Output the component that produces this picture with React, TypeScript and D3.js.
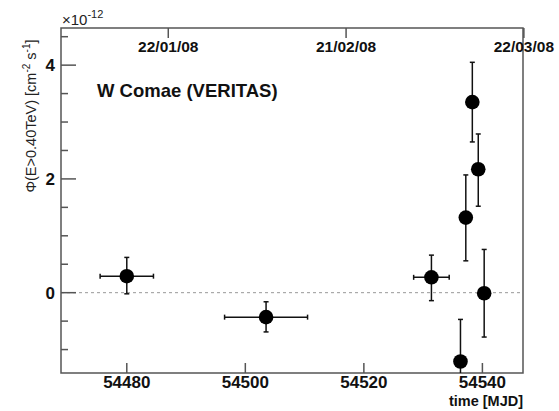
import React from "react";
import * as d3 from "d3";

// light curve points (MJD, flux in 1e-12 cm^-2 s^-1)
const mjd = [54480.0, 54503.5, 54531.4, 54536.3, 54537.2, 54538.3, 54539.3, 54540.3];
const mjdErr = [4.5, 7.0, 3.0, 0, 0, 0, 0, 0];
const flux = [0.29, -0.43, 0.27, -1.21, 1.32, 3.35, 2.17, -0.01];
const fluxHi = [0.62, -0.16, 0.66, -0.47, 2.07, 4.05, 2.79, 0.76];
const fluxLo = [-0.02, -0.69, -0.14, -1.95, 0.56, 2.65, 1.52, -0.78];

const bottomTicks = [54480, 54500, 54520, 54540];
const dateTicks = [54487, 54517, 54547];
const dateLabels = ["22/01/08", "21/02/08", "22/03/08"];
const majorY = [0, 2, 4];
const minorY = [-1, -0.5, 0.5, 1, 1.5, 2.5, 3, 3.5, 4.5];

const W = 559;
const H = 411;
const m = { left: 61, right: 523, top: 28, bottom: 373 };
const font = "'Liberation Sans', Arial, sans-serif";

export default function App() {
  const x = d3.scaleLinear().domain([54468.9, 54546.85]).range([m.left, m.right]);
  const y = d3.scaleLinear().domain([-1.412, 4.653]).range([m.bottom, m.top]);
  const axisColor = "#555";
  const cap = 2.5;

  return (
    <svg width={W} height={H} style={{ position: "absolute", left: 0, top: 0, background: "#fff" }}>
      <defs>
        <clipPath id="frame">
          <rect x={m.left} y={m.top} width={m.right - m.left} height={m.bottom - m.top} />
        </clipPath>
      </defs>

      {/* zero line */}
      <line x1={m.left} x2={m.right} y1={y(0)} y2={y(0)} stroke="#999" strokeWidth={1} strokeDasharray="3,3" />

      {/* frame */}
      <rect x={m.left} y={m.top} width={m.right - m.left} height={m.bottom - m.top} fill="none" stroke={axisColor} strokeWidth={1.5} />

      {/* y ticks */}
      {majorY.map((v) => (
        <g key={"my" + v}>
          <line x1={m.left} x2={m.left + 15} y1={y(v)} y2={y(v)} stroke={axisColor} strokeWidth={1.5} />
          <text x={55} y={y(v) + 6} textAnchor="end" fontFamily={font} fontWeight="bold" fontSize={17} fill="#111">
            {v}
          </text>
        </g>
      ))}
      {minorY.map((v) => (
        <line key={"ny" + v} x1={m.left} x2={m.left + 7} y1={y(v)} y2={y(v)} stroke={axisColor} strokeWidth={1.5} />
      ))}

      {/* bottom ticks */}
      {bottomTicks.map((v) => (
        <g key={"bx" + v}>
          <line x1={x(v)} x2={x(v)} y1={m.bottom} y2={m.bottom - 10} stroke={axisColor} strokeWidth={1.5} />
          <text x={x(v)} y={388} textAnchor="middle" fontFamily={font} fontWeight="bold" fontSize={17} fill="#111">
            {v}
          </text>
        </g>
      ))}

      {/* top date axis */}
      {dateTicks.map((v, i) => (
        <g key={"tx" + v}>
          <line x1={x(v)} x2={x(v)} y1={m.top} y2={m.top + 10} stroke={axisColor} strokeWidth={1.5} />
          <text x={x(v)} y={52} textAnchor="middle" fontFamily={font} fontWeight="bold" fontSize={15.5} fill="#111">
            {dateLabels[i]}
          </text>
        </g>
      ))}

      {/* data */}
      <g clipPath="url(#frame)">
        {mjd.map((t, i) => (
          <g key={"p" + i} stroke="#111" strokeWidth={1.5}>
            <line x1={x(t)} x2={x(t)} y1={y(fluxLo[i])} y2={y(fluxHi[i])} />
            <line x1={x(t) - cap} x2={x(t) + cap} y1={y(fluxLo[i])} y2={y(fluxLo[i])} />
            <line x1={x(t) - cap} x2={x(t) + cap} y1={y(fluxHi[i])} y2={y(fluxHi[i])} />
            {mjdErr[i] > 0 && (
              <>
                <line x1={x(t - mjdErr[i])} x2={x(t + mjdErr[i])} y1={y(flux[i])} y2={y(flux[i])} />
                <line x1={x(t - mjdErr[i])} x2={x(t - mjdErr[i])} y1={y(flux[i]) - cap} y2={y(flux[i]) + cap} />
                <line x1={x(t + mjdErr[i])} x2={x(t + mjdErr[i])} y1={y(flux[i]) - cap} y2={y(flux[i]) + cap} />
              </>
            )}
            <circle cx={x(t)} cy={y(flux[i])} r={7.3} fill="#000" stroke="none" />
          </g>
        ))}
      </g>

      {/* labels */}
      <text x={97} y={96.5} fontFamily={font} fontWeight="bold" fontSize={18.5} fill="#111">
        W Comae (VERITAS)
      </text>
      <text x={62} y={25} fontFamily={font} fontSize={15} fill="#222">
        ×10
        <tspan dy={-7} fontSize={11}>-12</tspan>
      </text>
      <text x={523} y={406} textAnchor="end" fontFamily={font} fontWeight="bold" fontSize={14.5} fill="#111">
        time [MJD]
      </text>
      <text
        transform={`translate(36, 116) rotate(-90)`}
        textAnchor="middle"
        fontFamily={font}
        fontSize={14.5}
        fill="#222"
      >
        Φ(E&gt;0.40TeV) [cm
        <tspan dy={-6} fontSize={10}>-2</tspan>
        <tspan dy={6}> s</tspan>
        <tspan dy={-6} fontSize={10}>-1</tspan>
        <tspan dy={6}>]</tspan>
      </text>
    </svg>
  );
}
